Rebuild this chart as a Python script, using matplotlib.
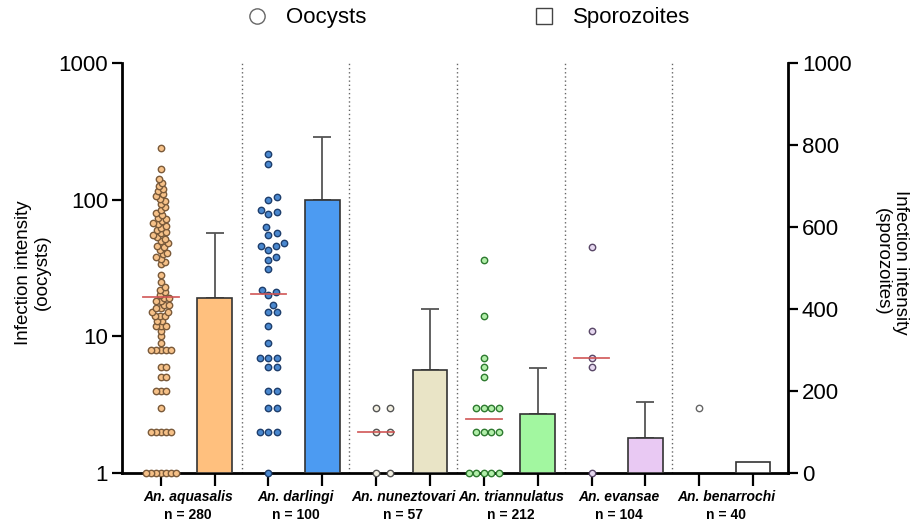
import numpy as np
import matplotlib.pyplot as plt
import matplotlib.transforms as mtransforms
from matplotlib.lines import Line2D
from matplotlib.ticker import NullLocator

plt.rcParams['font.family'] = ['Liberation Sans', 'DejaVu Sans']

# species and number dissected
species = ["An. aquasalis", "An. darlingi", "An. nuneztovari",
           "An. triannulatus", "An. evansae", "An. benarrochi"]
n_dissected = [280, 100, 57, 212, 104, 40]

# oocyst counts per infected mosquito
ooc_aquasalis = ([1] * 7 + [2] * 5 + [3] + [4] * 3 + [5] * 2 + [6] * 2 + [8] * 5
                 + [9, 10, 11]
                 + [12, 12, 12, 13, 13, 14, 14, 14, 15, 15, 16, 16, 17, 17, 18, 18, 19, 19]
                 + [20, 21, 22, 23, 25, 28]
                 + [34, 35, 37, 38, 40, 41, 43, 45]
                 + [46, 48, 50, 52, 53, 55, 57, 58, 60, 62, 64, 66, 68, 70, 72, 74]
                 + [77, 80, 84, 88, 93, 98]
                 + [102, 106, 110, 115, 120, 126, 133, 141]
                 + [167, 237])
ooc_darlingi = [1, 2, 2, 2, 3, 3, 4, 4, 6, 6, 7, 7, 7, 9, 12, 15, 15, 17, 20, 21,
                22, 31, 36, 38, 43, 46, 46, 48, 55, 57, 63, 78, 81, 84, 100, 104,
                181, 216]
ooc_nuneztovari = [1, 1, 2, 2, 3, 3]
ooc_triannulatus = [1] * 5 + [2] * 4 + [3] * 4 + [5, 6, 7, 14, 36]
ooc_evansae = [1, 6, 7, 11, 45]
ooc_benarrochi = [3]
oocysts = [ooc_aquasalis, ooc_darlingi, ooc_nuneztovari,
           ooc_triannulatus, ooc_evansae, ooc_benarrochi]

# sporozoite load (mean + SD)
spz_mean = [427, 666, 251, 144, 85, 27]
spz_sd = [158, 154, 149, 112, 88, 0]

bar_colors = ["#FFC07E", "#4C9BF2", "#E9E4C6", "#A2F7A0", "#E9C9F3", "#FFFFFF"]
dot_faces = ["#F6C188", "#4A88CF", "#F3F0E2", "#B2EFAA", "#E6D8F0", "#FFFFFF"]
dot_edges = ["#7A5A3A", "#1E3E6C", "#555555", "#2E7A30", "#5A4868", "#666666"]
swarm_gap = [5.0, 8.5, 14, 7.5, 8, 8]

fig = plt.figure(figsize=(9.14, 5.24), dpi=100)
ax = fig.add_axes([0.1335, 0.0973, 0.7287, 0.7824])
ax.set_yscale('log')
ax.set_ylim(1, 1000)
ax.set_xlim(-0.72, 11.65)
ax2 = ax.twinx()
ax2.set_ylim(0, 1000)


def swarm_x(x0, values, gap):
    """Spread points sideways (in pixels) so they don't pile up."""
    vals = np.asarray(values, dtype=float)
    pts = ax.transData.transform(np.column_stack([np.full(len(vals), x0), vals]))
    offs = np.zeros(len(vals))
    placed = []
    for i in np.argsort(vals, kind='stable'):
        py = pts[i, 1]
        cands = [0.0]
        for qo, qy in placed:
            dy = py - qy
            if abs(dy) < gap:
                dx = np.sqrt(gap ** 2 - dy ** 2)
                cands += [qo + dx, qo - dx]
        cands.sort(key=lambda c: (round(abs(c), 6), -c))
        for c in cands:
            if all((c - qo) ** 2 + (py - qy) ** 2 >= gap ** 2 - 1e-6 for qo, qy in placed):
                offs[i] = c
                break
        placed.append((offs[i], py))
    out = ax.transData.inverted().transform(np.column_stack([pts[:, 0] + offs, pts[:, 1]]))
    return out[:, 0]


for i, vals in enumerate(oocysts):
    x0 = 2 * i
    xs = swarm_x(x0, vals, swarm_gap[i])
    ax.plot(xs, vals, 'o', ms=4.6, mfc=dot_faces[i], mec=dot_edges[i], mew=1.0,
            ls='none', clip_on=False, zorder=3)
    if len(vals) > 1:
        med = np.median(vals)
        ax.plot([x0 - 0.33, x0 + 0.33], [med, med], color='#D05252', lw=1.3,
                alpha=0.9, zorder=4)

# sporozoite bars on the linear axis
bar_x = [2 * i + 1 for i in range(len(species))]
ax2.bar(bar_x, spz_mean, width=0.64, color=bar_colors, edgecolor='#333333',
        linewidth=1.2, zorder=2)
for x, m, s in zip(bar_x, spz_mean, spz_sd):
    if s > 0:
        ax2.errorbar(x, m, yerr=[[0], [s]], fmt='none', ecolor='#555555',
                     elinewidth=1.3, capsize=6.5, capthick=1.3, zorder=1)

for k in range(len(species) - 1):
    ax.axvline(2 * k + 1.5, color='#666666', lw=1, ls=(0, (1, 2)), zorder=1)

# axes styling
for a in (ax, ax2):
    a.spines['top'].set_visible(False)
ax.spines['right'].set_visible(False)
ax2.spines['left'].set_visible(False)
ax2.spines['bottom'].set_visible(False)
ax.spines['left'].set_linewidth(2)
ax.spines['bottom'].set_linewidth(2)
ax2.spines['right'].set_linewidth(2)

ax.set_xticks(range(12))
ax.set_xticklabels([''] * 12)
ax.tick_params(axis='x', length=9, width=1.6)
ax.set_yticks([1, 10, 100, 1000])
ax.set_yticklabels(['1', '10', '100', '1000'])
ax.yaxis.set_minor_locator(NullLocator())
ax.tick_params(axis='y', length=7, width=1.6, labelsize=16, pad=3)
ax2.set_yticks(range(0, 1001, 200))
ax2.tick_params(axis='y', length=7, width=1.6, labelsize=16, pad=3)

trans = mtransforms.blended_transform_factory(ax.transData, ax.transAxes)
label_font = ['Liberation Sans Narrow', 'Liberation Sans']
for i, (name, n) in enumerate(zip(species, n_dissected)):
    ax.text(2 * i + 0.5, -0.058, name, transform=trans, ha='center', va='center',
            fontsize=10, style='italic', weight='bold', family=label_font)
    ax.text(2 * i + 0.5, -0.102, f"n = {n}", transform=trans, ha='center',
            va='center', fontsize=10, weight='bold', family=label_font)

fig.text(0.036, 0.48, "Infection intensity\n(oocysts)", rotation=90,
         ha='center', va='center', fontsize=13.5, linespacing=1.1)
fig.text(0.975, 0.50, "Infection intensity\n(sporozoites)", rotation=270,
         ha='center', va='center', fontsize=13.5, linespacing=1.1)

handles = [Line2D([], [], marker='o', ls='none', ms=11, mfc='white',
                  mec='#666666', mew=1.0),
           Line2D([], [], marker='s', ls='none', ms=12, mfc='white',
                  mec='#444444', mew=1.0)]
fig.legend(handles, ["Oocysts", "Sporozoites"], loc='center',
           bbox_to_anchor=(0.512, 0.966), ncol=2, frameon=False, fontsize=16,
           handlelength=1, handletextpad=0.8, columnspacing=7.5)

fig.savefig('out.png', dpi=100)
